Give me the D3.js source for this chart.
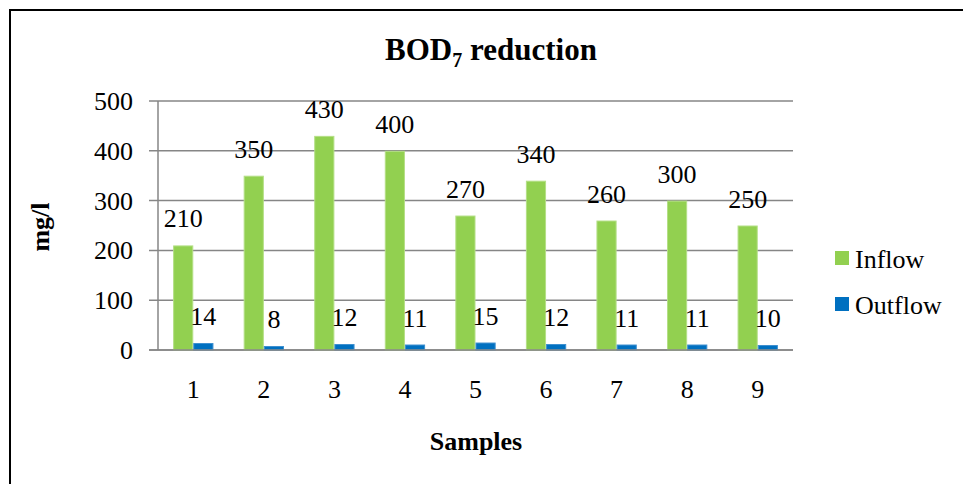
<!DOCTYPE html>
<html>
<head>
<meta charset="utf-8">
<script src="https://cdn.jsdelivr.net/npm/d3@7"></script>
<style>
body { margin: 0; background: #fff; }
</style>
</head>
<body>
<svg width="963" height="484"></svg>
<script>
var samples = ["1","2","3","4","5","6","7","8","9"]
var inflow = [210, 350, 430, 400, 270, 340, 260, 300, 250]
var outflow = [14, 8, 12, 11, 15, 12, 11, 11, 10]
var seriesNames = ["Inflow", "Outflow"]
var colors = ["#92D050", "#0070C0"]
var edges = ["#b4df86", "#3d8fcf"]
var yTicks = [0, 100, 200, 300, 400, 500]

var FONT = "'Liberation Serif', 'Times New Roman', serif"

var svg = d3.select("svg")

// frame
svg.append("rect").attr("x", 10).attr("y", 10).attr("width", 970).attr("height", 490)
	.attr("fill", "none").attr("stroke", "#000").attr("stroke-width", 2)

var plotLeft = 158, plotRight = 793, plotTop = 101, plotBottom = 350

var x = d3.scaleBand().domain(samples).range([plotLeft, plotRight]).paddingInner(1.5/3.5).paddingOuter(0.75/3.5)
var y = d3.scaleLinear().domain([0, 500]).range([plotBottom, plotTop])

function label(sel, size) {
	return sel.attr("font-family", FONT).attr("font-size", size).attr("fill", "#000")
}

// gridlines
svg.append("g").selectAll("line").data(yTicks).enter().append("line")
	.attr("x1", plotLeft - 9).attr("x2", plotRight)
	.attr("y1", d => y(d)).attr("y2", d => y(d))
	.attr("stroke", "#868686").attr("stroke-width", 1.5)

// y axis
svg.append("line").attr("x1", plotLeft).attr("x2", plotLeft).attr("y1", plotTop).attr("y2", plotBottom)
	.attr("stroke", "#868686").attr("stroke-width", 1.5)

label(svg.append("g").selectAll("text").data(yTicks).enter().append("text"), 26)
	.attr("x", plotLeft - 25).attr("y", d => y(d) + 9)
	.attr("text-anchor", "end")
	.text(d => d)

var sub = d3.scaleBand().domain([0, 1]).range([0, x.bandwidth()])

var series = [inflow, outflow]
series.forEach(function(vals, s) {
	var g = svg.append("g")
	g.selectAll("rect").data(vals).enter().append("rect")
		.attr("x", (d, i) => x(samples[i]) + sub(s) + 0.5)
		.attr("y", d => y(d) + 0.5)
		.attr("width", sub.bandwidth() - 1)
		.attr("height", d => Math.max(0, y(0) - y(d) - 0.5))
		.attr("fill", colors[s])
		.attr("stroke", edges[s]).attr("stroke-width", 1)
	label(g.selectAll("text").data(vals).enter().append("text"), 26)
		.attr("x", (d, i) => x(samples[i]) + sub(s) + sub.bandwidth() / 2)
		.attr("y", d => y(d) - 18)
		.attr("text-anchor", "middle")
		.text(d => d)
})

// x axis line
svg.append("line").attr("x1", plotLeft - 9).attr("x2", plotRight).attr("y1", plotBottom).attr("y2", plotBottom)
	.attr("stroke", "#868686").attr("stroke-width", 1.5)

label(svg.append("g").selectAll("text").data(samples).enter().append("text"), 26)
	.attr("x", d => x(d) + x.bandwidth() / 2).attr("y", 398)
	.attr("text-anchor", "middle")
	.text(d => d)

// titles
var title = label(svg.append("text"), 31).attr("x", 491).attr("y", 60).attr("text-anchor", "middle")
	.attr("font-weight", "bold")
title.append("tspan").text("BOD")
title.append("tspan").attr("dy", 7).attr("font-size", 20).text("7")
title.append("tspan").attr("dy", -7).text(" reduction")

label(svg.append("text"), 26).attr("x", 476).attr("y", 450).attr("text-anchor", "middle")
	.attr("font-weight", "bold").text("Samples")

label(svg.append("text"), 26).attr("transform", "translate(49,227) rotate(-90)").attr("text-anchor", "middle")
	.attr("font-weight", "bold").text("mg/l")

// legend
var leg = svg.append("g").selectAll("g").data(seriesNames).enter().append("g")
	.attr("transform", (d, i) => "translate(835," + (251 + i * 46) + ")")
leg.append("rect").attr("width", 14).attr("height", 14).attr("fill", (d, i) => colors[i])
label(leg.append("text"), 26).attr("x", 20).attr("y", 17).text(d => d)
</script>
</body>
</html>
